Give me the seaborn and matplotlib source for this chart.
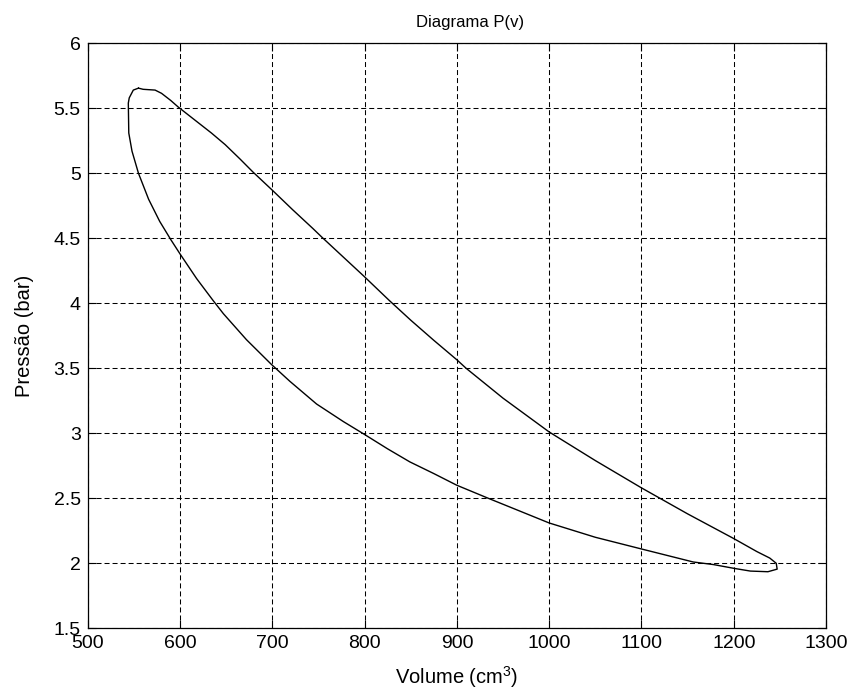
import matplotlib
matplotlib.use("Agg")
import matplotlib.pyplot as plt
import seaborn as sns
import pandas as pd

# Closed P-v loop (volume in cm^3, pressure in bar)
volume = [555, 560, 573, 580, 590, 598, 616, 634, 649, 665, 679, 700, 722, 744,
          753.5, 777, 799, 827, 850, 875, 900, 910, 950, 1000, 1050, 1100, 1150,
          1200, 1225, 1239, 1246, 1247, 1237, 1218, 1201, 1178, 1156, 1100, 1050,
          1000, 934, 900, 875, 849, 825, 799, 777, 748, 719, 699, 672, 647, 636,
          618, 600, 590, 578, 566, 555, 548, 544.5, 544, 545, 549.4, 555]
pressure = [5.655, 5.646, 5.64, 5.615, 5.56, 5.51, 5.41, 5.31, 5.22, 5.11, 5.01,
            4.87, 4.72, 4.575, 4.51, 4.355, 4.21, 4.02, 3.87, 3.715, 3.565, 3.50,
            3.27, 3.01, 2.79, 2.58, 2.38, 2.19, 2.09, 2.04, 2.00, 1.955, 1.935,
            1.94, 1.96, 1.99, 2.01, 2.11, 2.20, 2.31, 2.50, 2.60, 2.69, 2.78,
            2.88, 2.995, 3.09, 3.225, 3.40, 3.53, 3.72, 3.92, 4.02, 4.19, 4.38,
            4.49, 4.63, 4.80, 5.00, 5.17, 5.31, 5.54, 5.58, 5.64, 5.655]

x_ticks = [500, 600, 700, 800, 900, 1000, 1100, 1200, 1300]
y_ticks = [1.5, 2, 2.5, 3, 3.5, 4, 4.5, 5, 5.5, 6]
y_tick_labels = ["1.5", "2", "2.5", "3", "3.5", "4", "4.5", "5", "5.5", "6"]

sns.set_theme(style="ticks")
fam = ["Liberation Sans", "DejaVu Sans"]
plt.rcParams["font.family"] = fam
plt.rcParams["mathtext.fontset"] = "custom"
plt.rcParams["mathtext.rm"] = "Liberation Sans"
plt.rcParams["mathtext.it"] = "Liberation Sans"

df = pd.DataFrame({"Volume": volume, "Pressao": pressure})

fig = plt.figure(figsize=(8.54, 6.97), dpi=100)
ax = fig.add_axes([0.1027, 0.0986, 0.9673 - 0.1027, 0.9379 - 0.0986])

sns.lineplot(data=df, x="Volume", y="Pressao", sort=False, estimator=None,
             color="black", linewidth=1.0, ax=ax)

ax.set_xlim(500, 1300)
ax.set_ylim(1.5, 6)
ax.set_xticks(x_ticks)
ax.set_yticks(y_ticks)
ax.set_yticklabels(y_tick_labels)

ax.grid(True, color="black", linestyle=(0, (4.8, 2.9)), linewidth=0.75)
ax.set_axisbelow(False)

for s in ax.spines.values():
    s.set_visible(True)
    s.set_color("black")
    s.set_linewidth(0.9)

ax.tick_params(axis="both", which="major", direction="in", length=5.5, width=0.8,
               top=True, right=True, labelsize=14, colors="black")
ax.tick_params(axis="x", pad=4.5)
ax.tick_params(axis="y", pad=5)

ax.set_xlabel("Volume (cm$^3$)", fontsize=14.5, color="black", labelpad=9)
ax.set_ylabel("Pressão (bar)", fontsize=14.5, color="black", labelpad=14)
ax.set_title("Diagrama P(v)", fontsize=12, color="black", pad=12, x=0.5177)

fig.savefig("out.png", dpi=100, facecolor="white")
